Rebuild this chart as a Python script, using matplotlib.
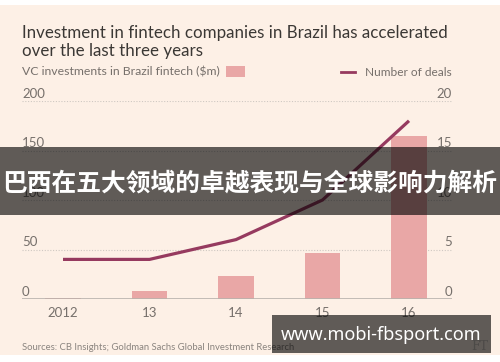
import matplotlib
matplotlib.use("Agg")
import matplotlib.pyplot as plt
from matplotlib.patches import Rectangle
import matplotlib.transforms as mtransforms

years = ["2012", "13", "14", "15", "16"]
investment = [1, 8, 23, 46, 165]
deals = [4, 4, 6, 10, 18]
left_ticks = [0, 50, 100, 150, 200]
right_ticks = [0, 5, 10, 15, 20]

W, H = 500, 362
fig = plt.figure(figsize=(W / 100, H / 100), dpi=100)
FONT = ["Lato", "DejaVu Sans"]
bg = "#fdf0e6"
fig.patch.set_facecolor(bg)

def fx(x):
    return x / W

def fy(y):
    return 1 - y / H

# white strips top and bottom
fig.patches.append(Rectangle((0, fy(5)), 1, 5 / H, transform=fig.transFigure,
                             facecolor="white", edgecolor="none", zorder=-5))
fig.patches.append(Rectangle((0, 0), 1, (H - 355) / H, transform=fig.transFigure,
                             facecolor="white", edgecolor="none", zorder=-5))

ax = fig.add_axes([fx(22), fy(299), fx(452) - fx(22), fy(101) - fy(299)])
ax.set_facecolor("none")
x = list(range(len(years)))
ax.bar(x, investment, width=0.405, color="#e9a7a6", zorder=2)
ax.set_xlim(-0.474, 4.497)
ax.set_ylim(0, 200)
for s in ax.spines.values():
    s.set_visible(False)
ax.set_yticks([])
ax.set_xticks(x)
ax.set_xticklabels(years, fontsize=9.5, color="#76706b", family=FONT)
ax.tick_params(axis="x", length=0, pad=6)
for t in left_ticks:
    if t == 0:
        ax.axhline(0, color="#b8b2ad", lw=1.2, zorder=3)
    else:
        ax.axhline(t, color="#cfc8c2", lw=0.8, ls=(0, (1, 1.5)), zorder=1)
trans_l = mtransforms.blended_transform_factory(ax.transAxes, ax.transData)
for t in left_ticks:
    ax.text(0, t + 1.2, str(t), transform=trans_l, ha="left", va="bottom",
            fontsize=9.5, color="#76706b", family=FONT)

ax2 = ax.twinx()
ax2.set_ylim(0, 20)
ax2.plot(x, deals, color="#963a5f", lw=2.3, zorder=4, solid_capstyle="butt")
for s in ax2.spines.values():
    s.set_visible(False)
ax2.set_yticks([])
trans_r = mtransforms.blended_transform_factory(ax2.transAxes, ax2.transData)
for t in right_ticks:
    ax2.text(1, t + 0.12, str(t), transform=trans_r, ha="right", va="bottom",
             fontsize=9.5, color="#76706b", family=FONT)

# titles
fig.text(fx(22), fy(33), "Investment in fintech companies in Brazil has accelerated",
         fontsize=12.2, color="#3b3835", va="center", ha="left", family=FONT)
fig.text(fx(22), fy(51), "over the last three years",
         fontsize=12.2, color="#3b3835", va="center", ha="left", family=FONT)
fig.text(fx(22), fy(72), "VC investments in Brazil fintech ($m)",
         fontsize=8.8, color="#76706b", va="center", ha="left", family=FONT)
fig.patches.append(Rectangle((fx(226), fy(77)), fx(19), (77 - 66) / H,
                             transform=fig.transFigure, facecolor="#e9a7a6",
                             edgecolor="none"))
fig.lines.append(plt.Line2D([fx(341), fx(355)], [fy(72), fy(72)], transform=fig.transFigure,
                            color="#963a5f", lw=2))
fig.text(fx(452), fy(72), "Number of deals", fontsize=8.6, color="#76706b",
         va="center", ha="right", family=FONT)

fig.text(fx(22), fy(347), "Sources: CB Insights; Goldman Sachs Global Investment Research",
         fontsize=6.8, color="#8a847f", va="center", ha="left", family=FONT)
fig.text(fx(488), fy(346), "FT", fontsize=9, color="#c9c2bc", va="center", ha="right",
         family=["DejaVu Serif"])

# overlay banners
fig.patches.append(Rectangle((0, fy(215)), 1, (215 - 147) / H, transform=fig.transFigure,
                             facecolor="black", alpha=0.62, edgecolor="none", zorder=10))
fig.text(0.5, fy(183), "巴西在五大领域的卓越表现与全球影响力解析", fontsize=17.8,
         color="white", fontweight="bold", va="center", ha="center",
         family=["Noto Sans CJK SC", "DejaVu Sans"], zorder=11)
fig.patches.append(Rectangle((fx(272), fy(353)), fx(491) - fx(272), (353 - 315) / H,
                             transform=fig.transFigure, facecolor="black", alpha=0.62,
                             edgecolor="none", zorder=10))
fig.text(fx(381), fy(335), "www.mobi-fbsport.com", fontsize=13, color="white",
         fontweight="bold", va="center", ha="center",
         family=["Noto Sans", "DejaVu Sans"], zorder=11)

fig.savefig("out.png", dpi=100, facecolor=bg)
